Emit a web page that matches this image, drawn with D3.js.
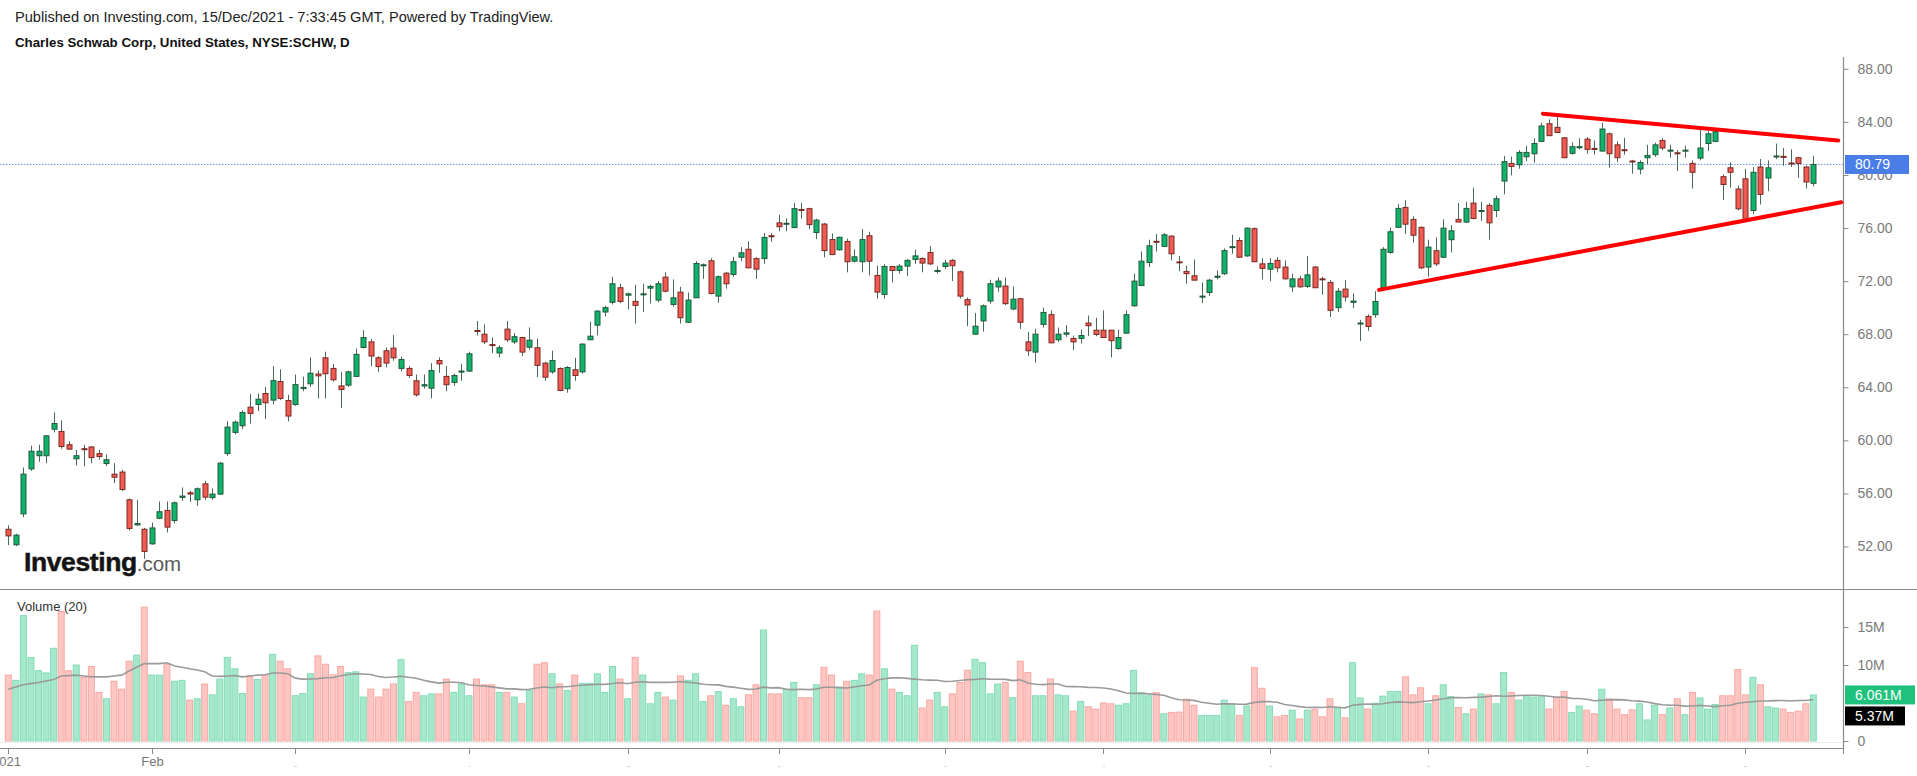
<!DOCTYPE html>
<html><head><meta charset="utf-8">
<script src="https://cdn.jsdelivr.net/npm/d3@7"></script>
<style>
html,body{margin:0;padding:0;background:#fff;overflow:hidden;}
svg{display:block;font-family:"Liberation Sans",Arial,sans-serif;}
</style></head><body>
<svg id="chart" width="1917" height="776"></svg>
<script>
// ---- Data (SCHW daily, Jan 4 2021 -> Dec 14 2021) ----
const opens = [
53.3,52.13,54.46,57.85,58.84,58.84,60.84,60.67,59.67,58.61,
59.37,59.5,59.0,58.25,57.45,57.61,55.52,53.63,53.3,52.2,
54.13,54.72,53.96,55.7,56.05,55.52,56.72,55.69,55.95,59.01,
60.6,61.1,62.5,62.7,63.53,63.03,64.43,63.0,62.7,63.9,
64.26,65.0,66.22,65.42,64.1,64.16,64.82,67.0,67.42,66.22,
66.75,66.95,65.42,65.42,64.49,64.1,63.93,66.02,64.82,64.36,
65.16,65.22,68.28,68.0,67.22,66.58,68.38,67.42,67.75,67.02,
66.98,65.82,65.16,65.42,63.89,65.32,65.16,67.58,68.68,69.67,
70.4,71.5,70.94,70.47,70.97,71.47,70.57,72.3,70.24,71.17,
68.9,70.74,73.2,73.53,70.87,72.6,72.5,73.8,74.4,73.7,
73.7,75.42,76.39,76.3,76.03,77.4,77.46,75.66,76.3,75.13,
74.36,74.99,73.5,73.46,75.42,72.43,71.0,73.1,72.8,73.13,
73.63,73.7,74.16,72.73,73.1,73.56,72.7,70.6,68.0,69.0,
70.5,71.56,71.63,69.9,70.67,67.42,66.65,68.74,69.47,67.58,
68.0,67.68,67.68,68.84,68.3,68.3,68.3,66.92,68.08,70.14,
71.67,73.4,75.0,74.62,75.39,73.45,72.73,72.4,70.8,71.14,
72.3,72.56,74.55,75.06,73.9,75.95,73.3,72.9,73.56,73.06,
71.57,72.17,71.6,73.06,72.17,71.9,70.0,71.4,70.4,68.8,
69.34,69.47,71.4,74.16,76.05,77.55,76.65,76.05,73.06,74.29,
73.8,75.12,76.65,76.45,77.88,77.28,77.71,77.32,79.54,80.87,
80.77,81.37,81.6,82.53,83.86,83.59,82.8,81.63,82.1,82.7,
82.0,81.8,83.1,82.27,81.9,81.05,80.44,81.3,81.53,82.6,
81.85,81.67,81.85,80.87,81.27,82.37,82.53,79.87,80.54,78.94,
79.71,77.32,80.6,79.77,81.4,81.4,80.9,81.3,80.6,79.37];
const highs = [
53.6,52.96,57.95,59.6,59.67,60.4,62.1,61.5,59.94,59.27,
59.67,59.57,59.27,58.94,58.28,57.78,55.62,55.52,53.4,53.8,
55.39,55.39,55.39,56.45,56.19,56.45,56.95,56.38,58.38,61.44,
61.5,62.27,63.5,63.53,64.03,65.6,65.36,63.43,64.96,64.8,
66.25,65.26,66.68,65.75,65.16,65.26,66.92,68.3,67.65,66.35,
67.0,67.93,66.3,65.6,64.96,64.96,65.82,66.25,65.59,65.02,
65.75,66.68,69.0,68.74,67.75,67.15,69.0,68.08,67.81,68.51,
67.68,65.92,66.75,65.49,65.59,66.22,67.32,68.94,69.81,70.14,
72.33,71.8,71.14,71.73,71.8,71.73,72.0,72.66,72.13,71.57,
71.14,73.5,73.33,73.73,72.43,72.7,73.83,74.56,75.0,73.8,
75.62,75.62,77.0,76.73,77.9,77.9,77.53,76.7,76.39,75.6,
75.36,75.2,74.4,75.93,75.72,73.17,73.3,73.1,73.3,73.66,
74.36,73.8,74.66,73.1,73.6,73.66,72.8,70.77,69.6,70.24,
72.1,72.27,72.27,71.6,70.74,68.18,68.4,70.0,69.8,68.5,
68.68,67.9,68.35,69.4,69.24,69.8,68.3,68.35,69.8,72.56,
74.23,75.12,75.55,75.62,75.45,73.9,73.16,73.63,71.9,72.17,
72.8,74.46,75.49,75.29,76.05,76.05,73.73,73.73,73.8,73.56,
72.56,72.4,73.9,73.13,72.33,72.07,71.47,72.07,71.07,69.08,
69.5,71.24,74.56,76.05,77.8,78.1,76.88,76.12,75.12,75.29,
76.65,76.22,77.88,77.98,79.04,77.98,77.88,78.44,81.44,81.37,
81.87,82.2,82.76,83.93,84.19,84.36,82.86,82.46,82.76,82.86,
82.6,83.93,83.2,82.53,82.8,81.14,81.1,82.27,82.43,82.76,
82.27,81.87,82.2,81.1,83.43,83.3,83.36,80.04,80.94,79.21,
80.44,80.6,81.2,81.1,82.37,82.03,81.93,81.37,80.7,81.43];
const lows = [
52.1,52.03,54.2,57.7,58.38,58.28,60.6,59.37,59.27,58.11,
58.05,58.28,58.54,58.05,56.78,56.19,53.2,53.55,51.07,52.13,
54.06,53.06,53.73,55.45,55.36,55.06,55.52,55.52,55.89,58.84,
60.44,60.84,61.27,62.2,61.6,62.7,63.03,61.43,62.6,63.7,
64.03,63.16,63.16,64.43,62.43,64.03,64.76,66.92,65.59,65.16,
65.5,66.0,65.2,64.7,63.3,63.9,63.16,65.09,63.7,64.1,
64.49,65.16,67.9,67.25,66.58,66.25,67.42,67.25,66.35,66.82,
64.76,64.49,65.02,63.7,63.59,64.49,65.02,67.58,67.91,69.34,
70.24,70.34,69.87,68.8,69.67,70.3,70.4,71.14,70.07,68.8,
68.88,70.74,72.17,71.0,70.37,71.43,72.33,73.5,73.0,72.17,
73.3,74.96,75.76,75.76,76.03,76.7,75.9,75.16,73.8,73.96,
74.3,72.66,73.4,72.66,72.43,70.67,70.67,71.9,72.56,72.37,
73.3,72.66,73.2,72.56,72.9,72.0,70.7,68.6,68.0,68.2,
70.3,71.2,70.2,69.8,68.4,66.35,65.85,68.5,67.32,67.42,
67.8,66.8,67.3,67.85,67.85,67.75,66.25,66.82,68.0,70.07,
71.63,73.06,74.23,74.56,73.56,72.75,71.8,72.07,70.34,70.9,
72.13,72.47,74.06,73.73,73.83,73.46,72.13,72.0,72.66,72.13,
71.17,71.5,71.47,71.5,70.97,69.3,69.67,70.47,69.97,67.48,
68.25,69.24,71.4,74.06,76.05,75.55,74.89,72.9,72.33,73.13,
73.73,74.16,76.45,76.39,76.65,76.55,75.12,76.82,78.54,79.97,
80.47,81.04,80.94,82.47,82.96,83.2,81.3,81.53,81.93,81.6,
81.53,81.77,80.54,80.97,81.53,80.1,80.04,80.8,81.37,81.87,
81.3,80.3,81.3,78.98,81.1,81.8,82.47,78.11,79.04,77.32,
76.55,77.05,77.78,78.78,81.2,80.7,80.6,79.77,78.98,79.14];
const closes = [
52.8,52.86,57.45,59.18,59.18,60.34,61.27,59.54,59.34,58.84,
59.3,58.7,58.78,58.54,57.22,56.29,53.36,53.73,51.63,53.4,
54.62,53.46,55.29,55.8,55.95,56.35,55.72,55.95,58.28,61.0,
61.37,62.1,62.03,63.1,62.83,64.5,63.16,61.83,64.2,63.99,
65.06,64.86,65.02,64.56,63.83,65.16,66.48,67.75,66.35,65.56,
65.82,66.22,66.09,64.89,63.43,64.19,65.26,65.76,64.19,64.89,
65.22,66.52,68.2,67.42,67.15,66.98,67.58,67.81,66.65,67.55,
65.65,64.76,66.02,63.76,65.49,64.89,67.25,67.85,69.74,70.0,
71.8,70.47,71.04,70.17,71.04,71.6,71.8,71.24,70.74,69.24,
70.57,73.33,73.23,71.07,72.33,71.8,73.46,74.13,73.0,72.9,
75.29,75.35,76.1,76.36,77.46,77.33,76.26,76.6,74.3,74.0,
75.3,73.46,73.83,75.13,73.5,71.17,73.1,72.8,73.13,73.56,
73.9,73.36,73.3,72.8,73.36,73.16,70.87,70.2,68.6,70.14,
71.8,72.0,70.3,70.64,68.9,66.75,68.0,69.64,67.35,68.0,
68.1,67.42,67.9,68.64,67.98,67.75,67.51,67.75,69.47,72.0,
73.5,74.66,74.96,75.49,74.06,73.4,72.56,72.07,70.87,72.07,
72.37,74.3,74.6,73.8,75.99,73.46,72.96,73.33,73.0,72.17,
72.17,71.57,72.47,71.5,72.13,69.8,71.24,70.8,70.5,68.84,
68.58,70.47,74.4,75.72,77.48,76.29,75.46,73.0,74.56,73.3,
75.99,75.79,76.45,77.48,76.72,77.32,76.39,78.21,81.0,80.64,
81.7,81.7,82.37,83.69,82.96,83.2,81.3,82.13,82.13,81.93,
81.93,83.46,81.6,81.3,81.83,81.0,80.94,81.47,82.27,82.03,
81.87,81.63,81.87,80.2,82.03,83.1,83.26,79.28,80.2,77.45,
76.65,80.2,78.54,80.54,81.43,81.37,80.87,80.87,79.47,80.79];
// volume in millions
const volumes = [
8.67,7.98,16.5,11.0,9.25,8.96,12.2,17.05,9.25,10.0,
8.38,9.8,6.4,5.55,7.86,6.82,10.5,11.3,17.6,8.67,
8.67,10.1,7.86,7.98,5.38,5.55,7.5,6.07,8.15,11.0,
9.5,6.24,8.55,8.1,8.7,11.4,10.5,9.5,5.95,6.24,
8.84,11.2,10.1,8.7,9.8,9.0,9.1,5.78,6.82,5.78,
6.82,7.5,10.7,5.2,6.4,5.95,6.2,6.2,8.15,6.4,
7.5,5.95,8.15,7.4,7.4,6.4,6.4,5.78,4.9,6.65,
10.1,10.3,8.84,7.5,6.65,8.67,7.57,7.57,8.84,6.4,
9.8,8.15,5.55,11.0,8.67,4.9,6.4,5.78,5.38,8.55,
7.98,8.84,5.2,5.95,6.5,4.7,5.55,4.5,6.07,7.4,
14.6,6.2,6.2,6.82,7.7,5.7,5.7,7.4,9.7,8.67,
7.1,7.86,7.98,8.84,8.67,17.1,9.5,6.82,6.4,5.95,
12.6,4.34,5.38,6.4,4.5,6.2,7.7,9.3,10.75,10.3,
6.2,7.5,7.7,5.7,10.5,9.0,5.95,5.95,8.15,6.07,
5.95,3.93,5.2,4.5,4.2,5.0,4.9,4.7,4.9,9.3,
6.36,5.95,6.36,3.58,3.76,3.8,5.5,4.7,3.35,3.35,
3.35,5.38,4.8,3.35,4.6,9.65,6.94,4.6,3.18,3.35,
4.05,2.9,4.05,4.16,3.18,5.55,4.34,3.06,10.3,5.66,
4.2,4.97,5.9,6.5,6.5,8.44,6.07,7.0,4.9,5.95,
7.4,5.84,4.4,3.58,4.2,6.2,6.07,4.9,9.0,6.4,
5.38,5.95,5.78,5.95,4.2,5.78,6.5,3.76,4.6,4.05,
3.58,6.82,5.55,4.2,3.47,4.1,4.9,2.77,4.7,3.47,
4.34,5.55,3.47,6.4,5.66,4.2,4.8,5.95,5.95,9.4,
6.07,8.38,7.4,4.5,4.34,4.2,3.76,3.93,4.9,6.061];
// Volume MA(20) for the first 19 sessions (window reaches into 2020)
const volMAHead = [6.8,7.1,7.4,7.55,7.7,7.9,8.1,8.55,8.6,8.67,8.55,8.44,8.44,8.44,8.55,8.67,9.2,9.7,10.2];
const volMAValue = 5.37;
const lastPrice = 80.79;

// axis ticks / labels
const priceTicks = [52,56,60,64,68,72,76,80,84,88];
const volumeTicks = [0,10,15];
const monthStartIdx = [0,19,38,61,82,102,124,145,167,188,209,230];
const monthLabels = ["2021","Feb","Mar","Apr","May","Jun","Jul","Aug","Sep","Oct","Nov","Dec"];

// drawn trend lines (bar index, price)
const trendUpperIdx = [203.2, 242.3];
const trendUpperPrice = [84.62, 82.59];
const trendLowerIdx = [181.5, 242.7];
const trendLowerPrice = [71.34, 77.94];

const headerLine1 = "Published on Investing.com, 15/Dec/2021 - 7:33:45 GMT, Powered by TradingView.";
const headerLine2 = "Charles Schwab Corp, United States, NYSE:SCHW, D";

// ---- Drawing ----
const svg = d3.select('#chart');
const n = closes.length;
const axisX = 1843;
const x = d3.scaleLinear().domain([0, n-1]).range([8.3, 1813.3]);
const y = d3.scaleLinear().domain([52, 88]).range([546.5, 68.8]);
const yv = d3.scaleLinear().domain([0, 15]).range([741, 627]);

const GREEN = '#0fb36a', GREEN_BORDER = '#1f5a3c';
const RED = '#f05a50', RED_BORDER = '#7a2a25';
const WICK = '#486a58';
const VGREEN = '#a6e8cc', VGREEN_S = '#84dcb7';
const VRED = '#fec6c2', VRED_S = '#f8a9a4';

// header
svg.append('text').attr('x',15).attr('y',22).attr('font-size',14.6).attr('fill','#222').text(headerLine1);
svg.append('text').attr('x',15).attr('y',47).attr('font-size',13.3).attr('font-weight','bold').attr('fill','#111').text(headerLine2);

// pane separators and axes lines
svg.append('line').attr('x1',0).attr('x2',1917).attr('y1',589.5).attr('y2',589.5).attr('stroke','#8a8a8a').attr('stroke-width',1.2);
svg.append('line').attr('x1',axisX+0.5).attr('x2',axisX+0.5).attr('y1',57).attr('y2',750).attr('stroke','#8a8a8a').attr('stroke-width',1.2);
svg.append('line').attr('x1',0).attr('x2',axisX+1).attr('y1',748.5).attr('y2',748.5).attr('stroke','#8a8a8a').attr('stroke-width',1.2);
svg.append('line').attr('x1',0).attr('x2',axisX).attr('y1',742.5).attr('y2',742.5).attr('stroke','#eeeeee').attr('stroke-width',1);

// price axis
const pAxis = svg.append('g').attr('transform',`translate(${axisX+0.5},0)`)
  .call(d3.axisRight(y).tickValues(priceTicks).tickFormat(d3.format('.2f')).tickSize(5).tickPadding(9));
pAxis.select('.domain').remove();
pAxis.selectAll('line').attr('stroke','#8a8a8a');
pAxis.selectAll('text').attr('fill','#7a7a7a').attr('font-size',14).attr('font-family','"Liberation Sans",Arial,sans-serif');

// volume axis
const vAxis = svg.append('g').attr('transform',`translate(${axisX+0.5},0)`)
  .call(d3.axisRight(yv).tickValues(volumeTicks).tickFormat(d => d===0 ? '0' : d+'M').tickSize(5).tickPadding(9));
vAxis.select('.domain').remove();
vAxis.selectAll('line').attr('stroke','#8a8a8a');
vAxis.selectAll('text').attr('fill','#7a7a7a').attr('font-size',14).attr('font-family','"Liberation Sans",Arial,sans-serif');

// time axis
const tg = svg.append('g');
monthStartIdx.forEach((mi, k) => {
  const xx = Math.round(x(mi)) + 0.5;
  tg.append('line').attr('x1',xx).attr('x2',xx).attr('y1',748).attr('y2',754).attr('stroke','#8a8a8a');
  const t = tg.append('text').attr('fill','#777').text(monthLabels[k]);
  if (k === 0) t.attr('x',21).attr('y',766).attr('font-size',13).attr('text-anchor','end');
  else if (k === 1) t.attr('x',xx).attr('y',766).attr('font-size',13).attr('text-anchor','middle');
  else t.attr('x',xx).attr('y',767).attr('font-size',1.5).attr('text-anchor','middle');
});
tg.append('line').attr('x1',axisX+0.5).attr('x2',axisX+0.5).attr('y1',748).attr('y2',754).attr('stroke','#8a8a8a');

// volume bars
const bw = 6;
svg.append('g').selectAll('rect').data(volumes).join('rect')
  .attr('x',(d,i)=>x(i)-bw/2).attr('width',bw)
  .attr('y',d=>yv(d)).attr('height',d=>yv(0)-yv(d))
  .attr('fill',(d,i)=>closes[i]>=opens[i]?VGREEN:VRED)
  .attr('stroke',(d,i)=>closes[i]>=opens[i]?VGREEN_S:VRED_S).attr('stroke-width',1);

// volume MA(20)
const volMA = volumes.map((v,i)=> i<volMAHead.length ? volMAHead[i] : d3.mean(volumes.slice(i-19,i+1)));
svg.append('path').datum(volMA)
  .attr('d', d3.line().x((d,i)=>x(i)).y(d=>yv(d)))
  .attr('fill','none').attr('stroke','#9a9a9a').attr('stroke-width',1.6);

// watermark
const wm = svg.append('text').attr('x',24).attr('y',571);
wm.append('tspan').attr('font-size',26.5).attr('font-weight','bold').attr('fill','#141414').attr('letter-spacing',-0.4).attr('stroke','#141414').attr('stroke-width',0.5).text('Investing');
wm.append('tspan').attr('font-size',20.5).attr('fill','#5a5a5a').text('.com');

// last price dotted line
svg.append('line').attr('x1',0).attr('x2',axisX).attr('y1',y(lastPrice)).attr('y2',y(lastPrice))
  .attr('stroke','#6f8ff0').attr('stroke-width',1).attr('stroke-dasharray','1.5,1.5');

// candles
const cg = svg.append('g');
const cw = 5;
const up = i => closes[i] >= opens[i];
cg.selectAll('line').data(closes).join('line')
  .attr('x1',(d,i)=>Math.round(x(i))+0.5).attr('x2',(d,i)=>Math.round(x(i))+0.5)
  .attr('y1',(d,i)=>y(highs[i])).attr('y2',(d,i)=>y(lows[i]))
  .attr('stroke',WICK).attr('stroke-width',1);
cg.selectAll('rect').data(closes).join('rect')
  .attr('x',(d,i)=>Math.round(x(i))+0.5-cw/2).attr('width',cw)
  .attr('y',(d,i)=>y(Math.max(opens[i],closes[i])))
  .attr('height',(d,i)=>Math.max(1, Math.abs(y(opens[i])-y(closes[i]))))
  .attr('fill',(d,i)=>up(i)?GREEN:RED)
  .attr('stroke',(d,i)=>up(i)?GREEN_BORDER:RED_BORDER).attr('stroke-width',1);

// trend lines
const tl = d3.line().x(d=>x(d[0])).y(d=>y(d[1]));
svg.append('path').datum(d3.zip(trendUpperIdx,trendUpperPrice)).attr('d',tl)
  .attr('stroke','#ff0000').attr('stroke-width',4).attr('fill','none').attr('stroke-linecap','round');
svg.append('path').datum(d3.zip(trendLowerIdx,trendLowerPrice)).attr('d',tl)
  .attr('stroke','#ff0000').attr('stroke-width',4).attr('fill','none').attr('stroke-linecap','round');

// price / volume tags
function tag(yy, txt, bg, w){
  const g = svg.append('g');
  g.append('rect').attr('x',axisX+2).attr('y',yy-9.5).attr('width',w).attr('height',19).attr('fill',bg);
  g.append('text').attr('x',axisX+12).attr('y',yy+5).attr('fill','#fff').attr('font-size',14).text(txt);
}
tag(y(lastPrice), d3.format('.2f')(lastPrice), '#4a7de6', 64);
const vLast = volumes[n-1];
tag(yv(vLast), d3.format('.4')(vLast)+'M', '#1ec27c', 70);
tag(yv(vLast)+21, volMAValue+'M', '#000000', 60);

// volume title
svg.append('text').attr('x',17).attr('y',611).attr('font-size',13).attr('fill','#333').text('Volume (20)');
</script>
</body></html>
